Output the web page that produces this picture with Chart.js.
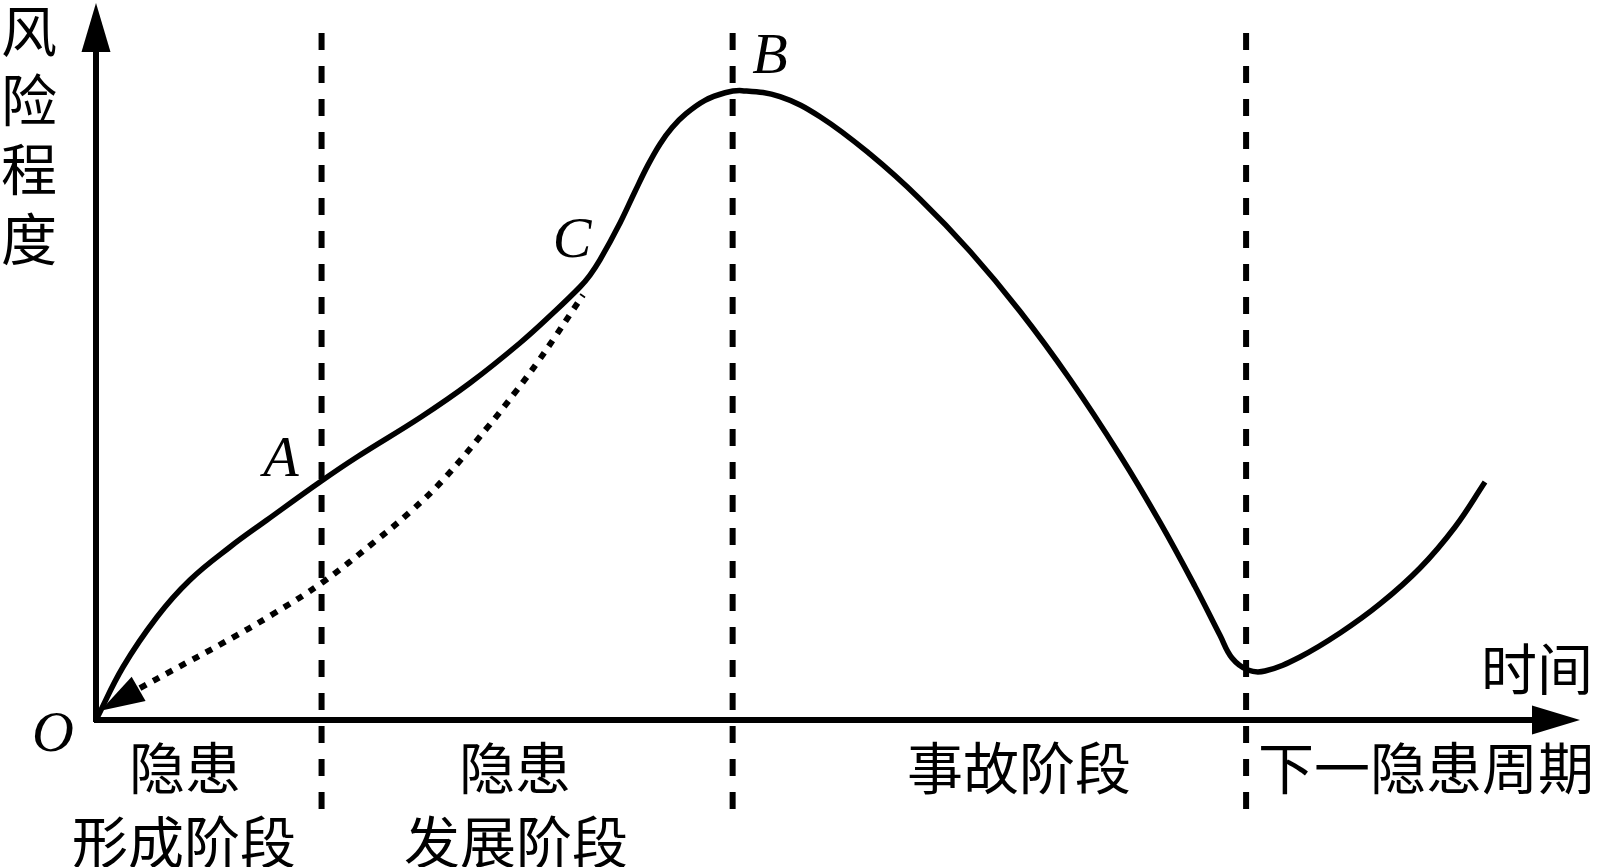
<!DOCTYPE html>
<html>
<head>
<meta charset="utf-8">
<script src="https://cdn.jsdelivr.net/npm/chart.js@4.4.1/dist/chart.umd.min.js"></script>
<style>
  html, body { margin: 0; padding: 0; background: #ffffff; }
  #wrap { width: 1602px; height: 867px; position: relative; }
</style>
</head>
<body>
<div id="wrap"><canvas id="c" width="1602" height="867"></canvas></div>
<script>
// ---- data (time 0..100, risk level 0..100) ----
const riskTime  = [0, 1.82, 4.11, 6.33, 9.03, 11.52, 15.09, 17.59, 21.90, 25.20, 28.57, 30.80, 32.61, 33.29, 33.96, 35.31, 36.32, 37.20, 38.01, 38.81, 39.76, 41.04, 42.39, 43.53, 46.09, 48.79, 52.16, 55.53, 58.89, 62.26, 65.63, 69.00, 71.70, 74.06, 75.74, 76.55, 77.63, 78.77, 81.13, 83.83, 86.52, 89.22, 91.58, 93.60];
const riskLevel = [0, 7.39, 14.37, 19.53, 24.13, 27.89, 33.19, 36.68, 42.26, 47.00, 52.58, 56.76, 60.39, 62.06, 64.16, 69.32, 73.71, 77.42, 80.35, 82.61, 84.56, 86.42, 87.48, 87.77, 86.93, 84.14, 78.91, 72.64, 65.38, 57.01, 47.53, 36.93, 27.56, 18.62, 11.81, 8.65, 6.97, 6.83, 8.79, 12.13, 16.18, 21.20, 26.92, 33.19];

// dotted path from C back to O
const returnTime  = [2.96, 5.19, 8.56, 11.93, 15.30, 18.67, 21.16, 23.38, 26.35, 28.37, 29.72, 30.93, 32.14, 32.82];
const returnLevel = [4.46, 6.97, 10.74, 14.78, 19.25, 24.69, 29.01, 33.47, 40.73, 46.03, 49.79, 53.42, 57.18, 59.28];
const returnArrowTip = [0.3, 1.3];

// stage boundaries (dashed verticals)
const stageBounds = [15.2, 42.9, 77.5];
const boundTop = 95.8, boundBottom = -13.5;

// labels
const yAxisTitle = ['风', '险', '程', '度'];
const xAxisTitle = '时间';
const stageLabels = [['隐患', '形成阶段'], ['隐患', '发展阶段'], ['事故阶段'], ['下一隐患周期']];
const pointLabels = ['O', 'A', 'B', 'C'];

const toPts = (xs, ys) => xs.map((x, i) => ({ x: x, y: ys[i] }));

const datasets = [
  {
    data: toPts(riskTime, riskLevel),
    borderColor: '#000', borderWidth: 5.5, pointRadius: 0,
    showLine: true, tension: 0.4, clip: false
  },
  {
    data: toPts(returnTime, returnLevel),
    borderColor: '#000', borderWidth: 6, borderDash: [7, 8], borderCapStyle: 'butt',
    pointRadius: 0, showLine: true, tension: 0.4, clip: false
  }
];
stageBounds.forEach(b => {
  datasets.push({
    data: [{ x: b, y: boundTop }, { x: b, y: boundBottom }],
    borderColor: '#000', borderWidth: 6, borderDash: [17, 16], borderCapStyle: 'butt',
    pointRadius: 0, showLine: true, tension: 0, clip: false
  });
});

const decor = {
  id: 'decor',
  beforeDatasetsDraw(chart) {
    const ctx = chart.ctx, xs = chart.scales.x, ys = chart.scales.y;
    const x0 = xs.getPixelForValue(0), y0 = ys.getPixelForValue(0);
    const xEnd = xs.getPixelForValue(100), yEnd = ys.getPixelForValue(100);
    ctx.save();
    ctx.fillStyle = '#000'; ctx.strokeStyle = '#000'; ctx.lineWidth = 6; ctx.lineCap = 'butt';
    // x axis
    ctx.beginPath(); ctx.moveTo(x0 - 2, y0); ctx.lineTo(xEnd - 45, y0); ctx.stroke();
    ctx.beginPath(); ctx.moveTo(xEnd, y0); ctx.lineTo(xEnd - 48, y0 - 14.5); ctx.lineTo(xEnd - 48, y0 + 14.5); ctx.closePath(); ctx.fill();
    // y axis
    ctx.beginPath(); ctx.moveTo(x0, y0 + 2); ctx.lineTo(x0, yEnd + 45); ctx.stroke();
    ctx.beginPath(); ctx.moveTo(x0, yEnd); ctx.lineTo(x0 - 14.5, yEnd + 49); ctx.lineTo(x0 + 14.5, yEnd + 49); ctx.closePath(); ctx.fill();
    ctx.restore();
  },
  afterDatasetsDraw(chart) {
    const ctx = chart.ctx, xs = chart.scales.x, ys = chart.scales.y;
    ctx.save();
    ctx.fillStyle = '#000';
    // arrowhead of dotted return path
    const tx = xs.getPixelForValue(returnArrowTip[0]), ty = ys.getPixelForValue(returnArrowTip[1]);
    const bx = xs.getPixelForValue(returnTime[0]), by = ys.getPixelForValue(returnLevel[0]);
    const dx = bx - tx, dy = by - ty, len = Math.hypot(dx, dy);
    const ux = dx / len, uy = dy / len, L = 44, W = 14;
    const cx = tx + ux * L, cy = ty + uy * L;
    ctx.beginPath(); ctx.moveTo(tx, ty);
    ctx.lineTo(cx - uy * W, cy + ux * W); ctx.lineTo(cx + uy * W, cy - ux * W);
    ctx.closePath(); ctx.fill();

    // CJK texts
    ctx.font = '56px "Noto Sans CJK SC"';
    ctx.textAlign = 'center'; ctx.textBaseline = 'middle';
    const yCenters = [31, 100, 169, 239];
    yAxisTitle.forEach((ch, i) => ctx.fillText(ch, 29, yCenters[i]));
    ctx.fillText(xAxisTitle, 1537, 669);
    const stagePos = [[185, 184], [515, 516], [1019], [1426]];
    stageLabels.forEach((lines, i) => {
      lines.forEach((t, j) => ctx.fillText(t, stagePos[i][j], j === 0 ? 768 : 842));
    });

    // italic point labels
    ctx.font = 'italic 58px "Liberation Serif"';
    ctx.textBaseline = 'alphabetic';
    const lblPos = [[53, 751], [281, 476], [770, 73], [572, 257]];
    pointLabels.forEach((t, i) => ctx.fillText(t, lblPos[i][0], lblPos[i][1]));
    ctx.restore();
  }
};

new Chart(document.getElementById('c'), {
  type: 'scatter',
  data: { datasets: datasets },
  options: {
    responsive: false,
    devicePixelRatio: 1,
    animation: false,
    layout: { padding: { left: 96, right: 22, top: 3, bottom: 147 } },
    plugins: { legend: { display: false }, tooltip: { enabled: false } },
    scales: {
      x: { type: 'linear', min: 0, max: 100, display: false },
      y: { type: 'linear', min: 0, max: 100, display: false }
    }
  },
  plugins: [decor]
});
</script>
</body>
</html>
